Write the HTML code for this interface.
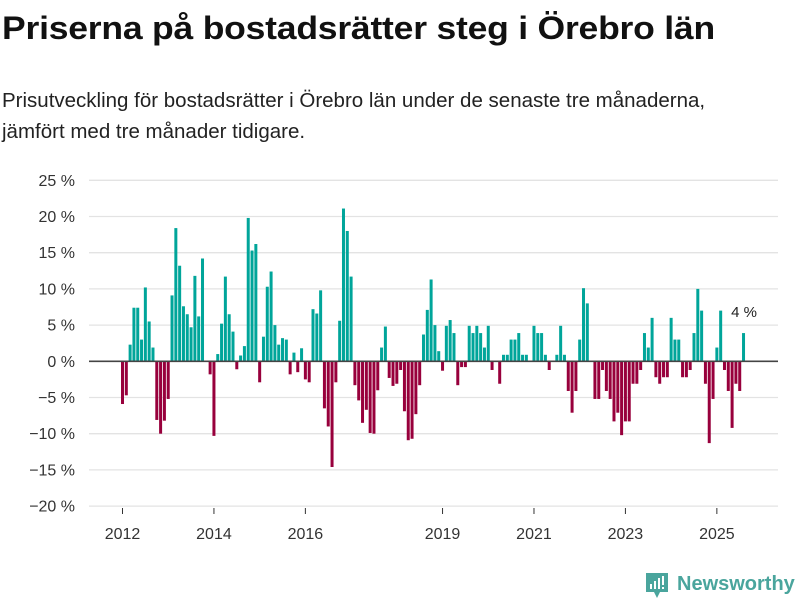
<!DOCTYPE html>
<html><head><meta charset="utf-8">
<style>
html,body{margin:0;padding:0;background:#fff;}
body{width:800px;height:600px;overflow:hidden;position:relative;font-family:"Liberation Sans",sans-serif;color:#111;}
#title{position:absolute;left:2px;top:10px;font-size:32px;font-weight:bold;margin:0;letter-spacing:-0.2px;transform:scaleX(1.11);transform-origin:0 0;white-space:nowrap;}
#subtitle{position:absolute;left:2px;top:85px;font-size:20.5px;line-height:31px;margin:0;width:720px;color:#222;}
svg{position:absolute;left:0;top:0;}
</style></head>
<body>
<h1 id="title">Priserna på bostadsrätter steg i Örebro län</h1>
<p id="subtitle">Prisutveckling för bostadsrätter i Örebro län under de senaste tre månaderna, jämfört med tre månader tidigare.</p>
<svg id="chart" width="800" height="600">
  <g id="grid"></g>
  <g id="ylabels"></g>
  <g id="bars"></g>
  <g id="xlabels"></g>
  <text x="744" y="317" font-size="15" text-anchor="middle" fill="#222" font-family="Liberation Sans, sans-serif">4 %</text>
  <g>
    <path d="M646 573 h22 v19 h-8 l-3 6 l-3 -6 h-8 z" fill="#4aa59d"/>
    <rect x="650" y="584" width="2" height="5" fill="#fff"/>
    <rect x="654" y="581" width="2" height="8" fill="#fff"/>
    <rect x="658" y="578" width="2" height="11" fill="#fff"/>
    <rect x="662" y="576" width="2" height="9" fill="#fff"/>
    <rect x="662" y="587" width="2" height="2" fill="#fff"/>
    <text x="677" y="590" font-size="20" font-weight="bold" fill="#4aa59d" font-family="Liberation Sans, sans-serif">Newsworthy</text>
  </g>
</svg>
<script>
const startYear = 2012;
const values = [-5.9,-4.7,2.3,7.4,7.4,3.0,10.2,5.5,1.9,-8.1,-10,-8.2,-5.2,9.1,18.4,13.2,7.6,6.5,4.7,11.8,6.2,14.2,null,-1.8,-10.3,1.0,5.2,11.7,6.5,4.1,-1.1,0.8,2.1,19.8,
15.3,16.2,-2.9,3.4,10.3,12.4,5.0,2.3,3.2,3.0,-1.8,1.2,-1.5,1.8,-2.5,-2.9,7.2,6.6,9.8,-6.5,-9.0,-14.6,-2.9,5.6,21.1,18.0,11.7,-3.3,-5.4,-8.5,-6.7,-9.9,-10.0,-4.0,1.9,
4.8,-2.3,-3.4,-3.1,-1.2,-6.9,-10.9,-10.7,-7.3,-3.3,3.7,7.1,11.3,5.0,1.4,-1.3,4.9,5.7,3.9,-3.3,-0.8,-0.8,4.9,3.9,4.9,3.9,1.9,4.9,-1.2,null,-3.1,0.9,0.9,3.0,
3.0,3.9,0.9,0.9,null,4.9,3.9,3.9,0.9,-1.2,null,0.9,4.9,0.9,-4.1,-7.1,-4.1,3.0,10.1,8.0,null,-5.2,-5.2,-1.2,-4.1,-5.2,-8.3,-7.1,-10.2,-8.3,-8.3,-3.1,-3.1,-1.2,
3.9,1.9,6.0,-2.2,-3.1,-2.2,-2.2,6.0,3.0,3.0,-2.2,-2.2,-1.2,3.9,10.0,7.0,-3.1,-11.3,-5.2,1.9,7.0,-1.2,-4.1,-9.2,-3.1,-4.1,3.9];
const yTicks = [25,20,15,10,5,0,-5,-10,-15,-20];
const xTickYears = [2012,2014,2016,2019,2021,2023,2025];

const NS='http://www.w3.org/2000/svg';
function y(v){ return 361.3 - v*7.24; }
function xMonth(i){ return 121 + i*3.81; }
function xYear(yr){ return 122.5 + (yr-startYear)*12*3.81; }

const grid=document.getElementById('grid'), yl=document.getElementById('ylabels');
yTicks.forEach(t=>{
  const l=document.createElementNS(NS,'line');
  l.setAttribute('x1',89); l.setAttribute('x2',778);
  l.setAttribute('y1',y(t)); l.setAttribute('y2',y(t));
  l.setAttribute('stroke','#e3e3e3'); l.setAttribute('stroke-width',1.3);
  
  
  grid.appendChild(l);
  const tx=document.createElementNS(NS,'text');
  tx.setAttribute('x',75); tx.setAttribute('y',y(t)+5.5);
  tx.setAttribute('text-anchor','end'); tx.setAttribute('font-size','16');
  tx.setAttribute('fill','#333'); tx.setAttribute('font-family','Liberation Sans, sans-serif');
  tx.textContent=(t<0?'\u2212'+(-t):t)+' %';
  
  
  yl.appendChild(tx);
});
const bars=document.getElementById('bars');
values.forEach((v,i)=>{
  if(v===null) return;
  const r=document.createElementNS(NS,'rect');
  const top=Math.min(y(v),y(0)), h=Math.abs(y(v)-y(0));
  r.setAttribute('x',xMonth(i)); r.setAttribute('width',3);
  r.setAttribute('y',top); r.setAttribute('height',h);
  r.setAttribute('fill', v>=0?'#00a59a':'#98003c');
  
  
  bars.appendChild(r);
});
const zl=document.createElementNS(NS,'line');
zl.setAttribute('x1',89); zl.setAttribute('x2',778);
zl.setAttribute('y1',y(0)); zl.setAttribute('y2',y(0));
zl.setAttribute('stroke','#444'); zl.setAttribute('stroke-width',1.6);


bars.appendChild(zl);
const xl=document.getElementById('xlabels');
xTickYears.forEach(yr=>{
  const tk=document.createElementNS(NS,'line');
  tk.setAttribute('x1',xYear(yr)); tk.setAttribute('x2',xYear(yr));
  tk.setAttribute('y1',508); tk.setAttribute('y2',514);
  tk.setAttribute('stroke','#333');
  
  
  xl.appendChild(tk);
  const tx=document.createElementNS(NS,'text');
  tx.setAttribute('x',xYear(yr)); tx.setAttribute('y',539);
  tx.setAttribute('text-anchor','middle'); tx.setAttribute('font-size','16');
  tx.setAttribute('fill','#333'); tx.setAttribute('font-family','Liberation Sans, sans-serif');
  tx.textContent=yr;
  
  
  xl.appendChild(tx);
});
</script>
</body></html>
